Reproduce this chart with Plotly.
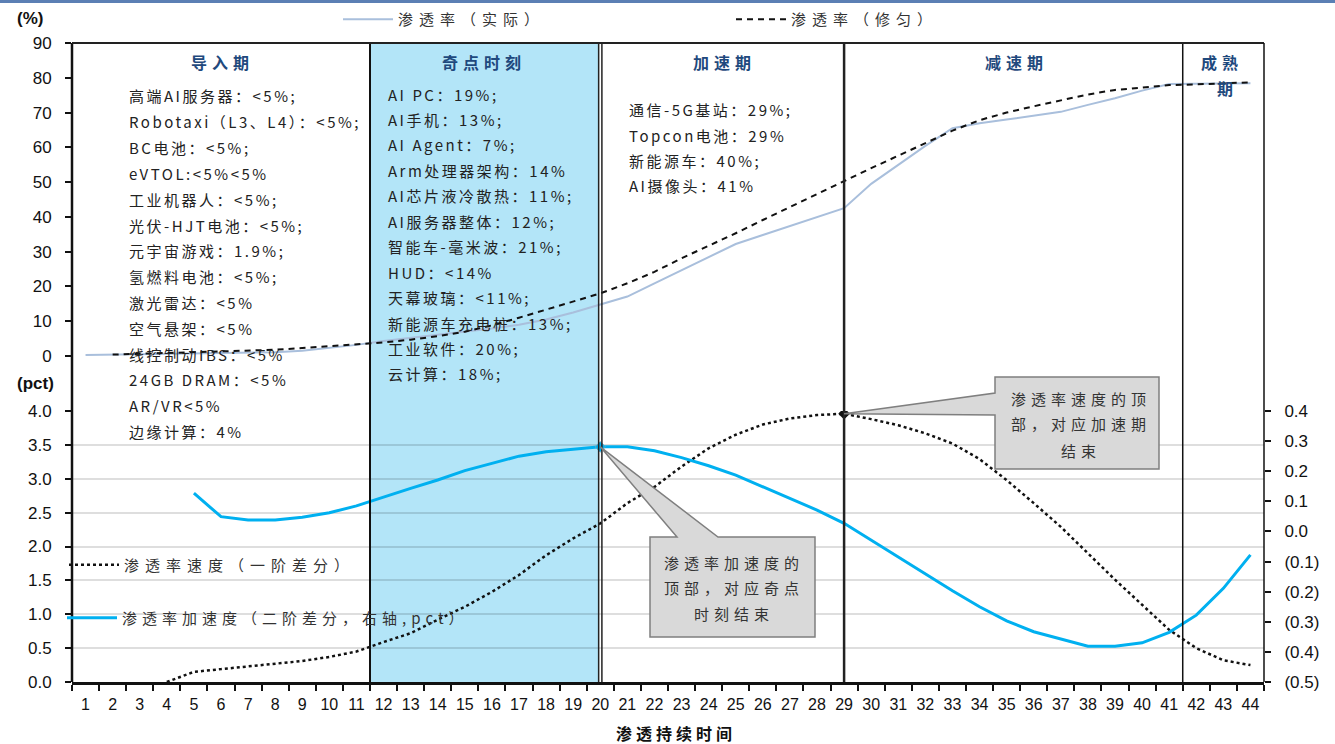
import plotly.graph_objects as go

# ---------------- data ----------------
periods = [str(i) for i in range(1, 45)]

# penetration rate, actual (%), periods 1-44
actual_rate = [0.3, 0.4, 0.5, 0.6, 0.7, 0.8, 0.9, 1.1, 1.5, 2.3,
               3.2, 4.3, 5.2, 6.0, 6.9, 7.9, 9.0, 10.5, 12.5, 14.7,
               17.1, 20.9, 24.7, 28.5, 32.2, 34.8, 37.4, 39.9, 42.5, 49.5,
               55.0, 60.4, 65.5, 66.9, 68.0, 69.0, 70.2, 72.2, 74.1, 76.3,
               78.2, 78.3, 78.3, 78.4]

# penetration rate, smoothed (%), periods 2-44
smooth_periods = periods[1:]
smooth_rate = [0.4, 0.6, 0.8, 1.0, 1.2, 1.5, 1.8, 2.3, 2.8,
               3.3, 3.9, 4.7, 5.7, 7.0, 8.8, 11.0, 13.3, 15.6, 18.0,
               20.9, 24.2, 28.1, 31.6, 35.3, 39.1, 42.9, 46.6, 50.3, 54.0,
               57.6, 61.3, 64.8, 67.8, 70.0, 71.8, 73.6, 75.2, 76.5, 77.3,
               77.9, 78.1, 78.3, 78.7]

# speed = first difference (pct), periods 4-44
speed_periods = periods[3:]
speed = [0.00, 0.15, 0.19, 0.23, 0.26, 0.31, 0.37, 0.45,
         0.59, 0.72, 0.92, 1.11, 1.33, 1.58, 1.87, 2.12, 2.34,
         2.64, 2.88, 3.18, 3.45, 3.65, 3.80, 3.89, 3.94, 3.96, 3.88,
         3.79, 3.67, 3.52, 3.29, 2.98, 2.64, 2.29, 1.90, 1.51, 1.14,
         0.77, 0.50, 0.32, 0.25]

# acceleration = second difference (pct, right axis), periods 5-44
accel_periods = periods[4:]
accel = [0.127, 0.049, 0.038, 0.038, 0.047, 0.062, 0.085,
         0.115, 0.143, 0.171, 0.202, 0.226, 0.250, 0.265, 0.273, 0.281,
         0.281, 0.268, 0.245, 0.218, 0.187, 0.148, 0.110, 0.071, 0.027, -0.029,
         -0.084, -0.142, -0.197, -0.250, -0.297, -0.333, -0.358, -0.381, -0.381, -0.370,
         -0.335, -0.278, -0.189, -0.078]

stage_titles = ["导入期", "奇点时刻", "加速期", "减速期"]

intro_items = ["高端AI服务器：<5%;", "Robotaxi（L3、L4）：<5%;", "BC电池：<5%;",
               "eVTOL:<5%<5%", "工业机器人：<5%;", "光伏-HJT电池：<5%;",
               "元宇宙游戏：1.9%;", "氢燃料电池：<5%;", "激光雷达：<5%",
               "空气悬架：<5%", "线控制动IBS：<5%", "24GB DRAM：<5%",
               "AR/VR<5%", "边缘计算：4%"]

singularity_items = ["AI PC：19%;", "AI手机：13%;", "AI Agent：7%;", "Arm处理器架构：14%",
                     "AI芯片液冷散热：11%;", "AI服务器整体：12%;", "智能车-毫米波：21%;",
                     "HUD：<14%", "天幕玻璃：<11%;", "新能源车充电桩：13%;",
                     "工业软件：20%;", "云计算：18%;"]

accel_items = ["通信-5G基站：29%;", "Topcon电池：29%", "新能源车：40%;", "AI摄像头：41%"]

right_ticks = [-0.5, -0.4, -0.3, -0.2, -0.1, 0.0, 0.1, 0.2, 0.3, 0.4]
right_ticktext = ["(0.5)", "(0.4)", "(0.3)", "(0.2)", "(0.1)", "0.0", "0.1", "0.2", "0.3", "0.4"]

# ---------------- layout geometry ----------------
W, H = 1335, 744
ML, MR, MT, MB = 72, 71, 43, 62
PW, PH = W - ML - MR, H - MT - MB
UPPER_DOM = [(H - MB - 356) / PH, 1.0]
LOWER_DOM = [0.0, (H - MB - 411) / PH]
Y3_RANGE = [-0.5, 0.4]
Y2_RANGE = [0, 4]


def px(xp):
    return (xp - ML) / PW


def py(yp):
    return (H - MB - yp) / PH


def spaced(text, gap):
    return '<span style="letter-spacing:%gpx">%s</span>' % (gap, text)


def cat_paper(label):
    i = periods.index(label)
    return (i + 0.5) / len(periods)


def y3_paper(v):
    return (v - Y3_RANGE[0]) / (Y3_RANGE[1] - Y3_RANGE[0]) * LOWER_DOM[1]


def y2_paper(v):
    return (v - Y2_RANGE[0]) / (Y2_RANGE[1] - Y2_RANGE[0]) * LOWER_DOM[1]


CJK = "Noto Sans CJK SC"
NUM = "Arial, Liberation Sans"
NAVY = "#1F497D"
ACTUAL_C = "#A9BFDC"
ACCEL_C = "#00B0F0"
SHADE = "#B3E5F8"

fig = go.Figure()

fig.add_trace(go.Scatter(
    x=periods, y=actual_rate, mode="lines", xaxis="x", yaxis="y",
    line=dict(color=ACTUAL_C, width=2),
    name=spaced("渗透率（实际）", 6), legend="legend"))
fig.add_trace(go.Scatter(
    x=smooth_periods, y=smooth_rate, mode="lines", xaxis="x", yaxis="y",
    line=dict(color="#111111", width=2, dash="6px,5px"),
    name=spaced("渗透率（修匀）", 6), legend="legend"))
fig.add_trace(go.Scatter(
    x=speed_periods, y=speed, mode="lines", xaxis="x", yaxis="y2",
    line=dict(color="#111111", width=2.5, dash="dot"),
    name=spaced("渗透率速度（一阶差分）", 6), legend="legend2"))
fig.add_trace(go.Scatter(
    x=accel_periods, y=accel, mode="lines", xaxis="x", yaxis="y3",
    line=dict(color=ACCEL_C, width=3),
    name=spaced("渗透率加速度（二阶差分，右轴,pct）", 5), legend="legend3"))

# peak markers
i_acc = accel.index(max(accel))
fig.add_trace(go.Scatter(
    x=[accel_periods[i_acc]], y=[accel[i_acc]], mode="markers", xaxis="x", yaxis="y3",
    marker=dict(symbol="diamond", size=8, color=ACCEL_C, line=dict(color="#5fa8c8", width=1)),
    showlegend=False, hoverinfo="skip"))
i_spd = speed.index(max(speed))
fig.add_trace(go.Scatter(
    x=[speed_periods[i_spd]], y=[speed[i_spd]], mode="markers", xaxis="x", yaxis="y2",
    marker=dict(symbol="diamond", size=9, color="#111111"),
    showlegend=False, hoverinfo="skip"))

shapes = []
# singularity shading, between period 11/12 boundary and period 20
shapes.append(dict(type="rect", xref="x", yref="paper", x0=10.5, x1=18.95, y0=0, y1=1,
                   fillcolor=SHADE, line=dict(width=0), layer="below"))
# stage separators
shapes.append(dict(type="line", xref="x", yref="paper", x0=10.5, x1=10.5, y0=0, y1=1,
                   line=dict(color="#111111", width=2)))
for dx in (-0.06, 0.06):
    shapes.append(dict(type="line", xref="x", yref="paper", x0=19 + dx, x1=19 + dx, y0=0, y1=1,
                       line=dict(color="#222222", width=1.5)))
shapes.append(dict(type="line", xref="x", yref="paper", x0=28, x1=28, y0=0, y1=1,
                   line=dict(color="#222222", width=2.5)))
shapes.append(dict(type="line", xref="x", yref="paper", x0=40.5, x1=40.5, y0=0, y1=1,
                   line=dict(color="#111111", width=1.5)))
# frame
shapes.append(dict(type="line", xref="paper", yref="paper", x0=0, x1=0, y0=0, y1=1,
                   line=dict(color="#111111", width=2.5)))
shapes.append(dict(type="line", xref="paper", yref="paper", x0=0, x1=1, y0=1, y1=1,
                   line=dict(color="#222222", width=2)))
shapes.append(dict(type="line", xref="paper", yref="paper", x0=1, x1=1, y0=0, y1=1,
                   line=dict(color="#111111", width=1.5)))
# header rule
shapes.append(dict(type="line", xref="paper", yref="paper", x0=px(0), x1=px(W), y0=py(1.5), y1=py(1.5),
                   line=dict(color="#5B7FB4", width=3)))

# callouts
tipx, tipy = cat_paper(accel_periods[i_acc]), y3_paper(accel[i_acc])
c1 = [(px(650), py(537)), (px(677), py(537)), (tipx, tipy), (px(718), py(537)),
      (px(815), py(537)), (px(815), py(637)), (px(650), py(637))]
tip2x, tip2y = cat_paper(speed_periods[i_spd]), y2_paper(speed[i_spd])
c2 = [(px(995), py(377)), (px(1159), py(377)), (px(1159), py(469)), (px(995), py(469)),
      (px(995), py(415)), (tip2x, tip2y), (px(995), py(393))]
for poly in (c1, c2):
    path = "M " + " L ".join("%.5f,%.5f" % p for p in poly) + " Z"
    shapes.append(dict(type="path", xref="paper", yref="paper", path=path,
                       fillcolor="#D9D9D9", line=dict(color="#7F7F7F", width=1.5)))

annotations = []


def text(x, y, s, size=15, color="#222222", family=CJK, anchor="left", gap=2.5, bold=False):
    t = spaced(s, gap) if gap else s
    if bold:
        t = "<b>" + t + "</b>"
    annotations.append(dict(xref="paper", yref="paper", x=px(x), y=py(y), text=t,
                            showarrow=False, xanchor=anchor, yanchor="middle",
                            font=dict(family=family, size=size, color=color)))


# stage titles
for s, cx in zip(stage_titles, [222, 484, 724, 1016]):
    text(cx, 62, s, size=16, color=NAVY, anchor="center", gap=5, bold=True)
text(1222, 62, "成熟", size=16, color=NAVY, anchor="center", gap=5, bold=True)
text(1225, 88, "期", size=16, color=NAVY, anchor="center", gap=0, bold=True)

for k, s in enumerate(intro_items):
    text(127, 96 + k * 25.8, s)
for k, s in enumerate(singularity_items):
    text(386, 94 + k * 25.45, s)
for k, s in enumerate(accel_items):
    text(627, 110 + k * 25.3, s)

for k, s in enumerate(["渗透率加速度的", "顶部，对应奇点", "时刻结束"]):
    text(734, 562 + k * 25.5, s, size=15, color="#333333", anchor="center", gap=5)
for k, s in enumerate(["渗透率速度的顶", "部，对应加速期", "结束"]):
    text(1081, 398 + k * 26, s, size=15, color="#333333", anchor="center", gap=5)

# axis units and x title
text(30, 18, "(%)", size=17, color="#111111", family=NUM, anchor="center", gap=0, bold=True)
text(35, 383, "(pct)", size=17, color="#111111", family=NUM, anchor="center", gap=0, bold=True)
text(676, 733, "渗透持续时间", size=16, color="#111111", anchor="center", gap=4, bold=True)

tick_font = dict(family=NUM, size=17, color="#111111")

fig.update_layout(
    width=W, height=H,
    margin=dict(l=ML, r=MR, t=MT, b=MB, autoexpand=False),
    paper_bgcolor="white", plot_bgcolor="white",
    shapes=shapes, annotations=annotations,
    xaxis=dict(type="category", categoryorder="array", categoryarray=periods,
               range=[-0.5, 43.5], anchor="y2", tickson="boundaries", tickangle=0,
               ticks="outside", ticklen=6, tickwidth=1.5, tickcolor="#111111",
               showline=True, linecolor="#111111", linewidth=3,
               showgrid=False, tickfont=dict(family=NUM, size=16, color="#111111"),
               ticklabelstandoff=6),
    yaxis=dict(domain=UPPER_DOM, range=[0, 90], dtick=10, anchor="x",
               ticks="outside", ticklen=6, tickwidth=1.5, tickcolor="#111111",
               showline=False, showgrid=False, zeroline=False,
               tickfont=tick_font, ticklabelstandoff=10),
    yaxis2=dict(domain=LOWER_DOM, range=Y2_RANGE, dtick=0.5, tickformat=".1f", anchor="x",
                ticks="outside", ticklen=6, tickwidth=1.5, tickcolor="#111111",
                showline=False, showgrid=True, gridcolor="rgba(0,0,0,0.13)", gridwidth=2,
                zeroline=False, tickfont=tick_font, ticklabelstandoff=10),
    yaxis3=dict(overlaying="y2", side="right", range=Y3_RANGE, anchor="x",
                tickvals=right_ticks, ticktext=right_ticktext,
                ticks="outside", ticklen=6, tickwidth=1.5, tickcolor="#111111",
                showline=False, showgrid=False, zeroline=False,
                tickfont=tick_font, ticklabelstandoff=10),
    legend=dict(orientation="h", x=px(338), y=py(3), xanchor="left", yanchor="top",
                bgcolor="rgba(0,0,0,0)", entrywidth=328, entrywidthmode="pixels",
                itemwidth=50,
                font=dict(family=CJK, size=15, color="#333333")),
    legend2=dict(x=px(64), y=py(565), xanchor="left", yanchor="middle",
                 bgcolor="rgba(0,0,0,0)", itemwidth=50,
                 font=dict(family=CJK, size=15, color="#333333")),
    legend3=dict(x=px(62), y=py(618), xanchor="left", yanchor="middle",
                 bgcolor="rgba(0,0,0,0)", itemwidth=50,
                 font=dict(family=CJK, size=15, color="#333333")),
)

fig.write_html("out.html")
